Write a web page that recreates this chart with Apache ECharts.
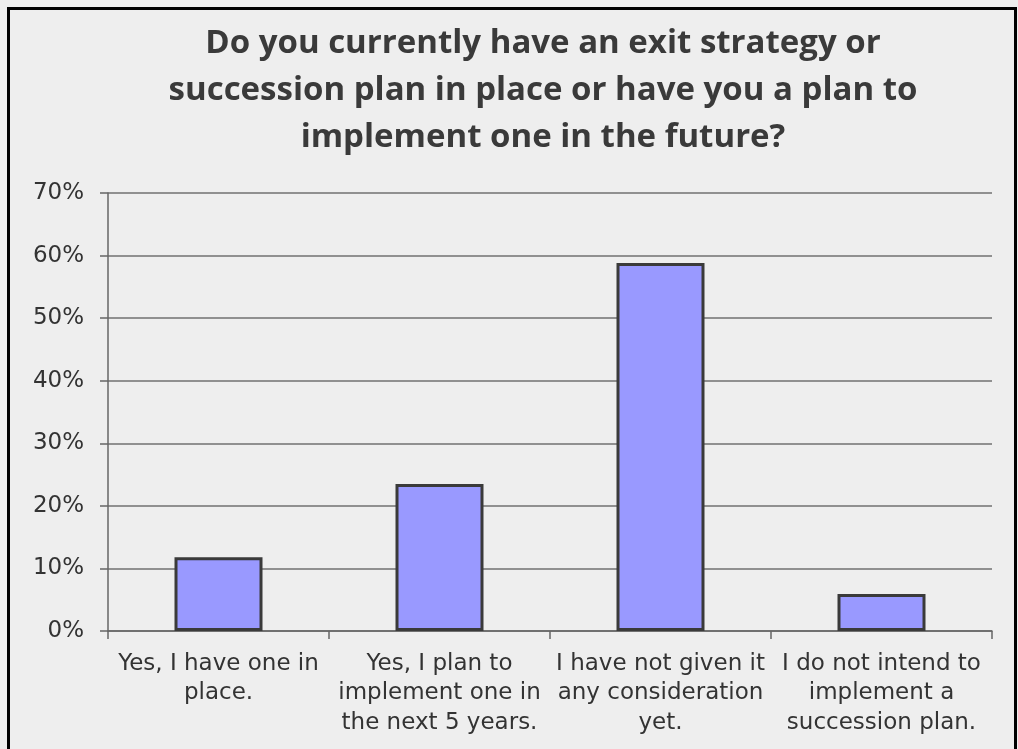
<!DOCTYPE html>
<html>
<head>
<meta charset="utf-8">
<script src="https://cdn.jsdelivr.net/npm/echarts@6/dist/echarts.min.js"></script>
<style>
  html, body { margin: 0; padding: 0; background: #eeeeee; }
  #chart { width: 1018px; height: 749px; }
</style>
</head>
<body>
<div id="chart"></div>
<script>
// Survey answers and share of respondents (%)
const categories = [
  'Yes, I have one in\nplace.',
  'Yes, I plan to\nimplement one in\nthe next 5 years.',
  'I have not given it\nany consideration\nyet.',
  'I do not intend to\nimplement a\nsuccession plan.'
];
const shares = [11.8, 23.5, 58.8, 5.9];
const yTicks = { min: 0, max: 70, step: 10 };
const titleText = 'Do you currently have an exit strategy or\nsuccession plan in place or have you a plan to\nimplement one in the future?';

const chart = echarts.init(document.getElementById('chart'), null, { renderer: 'canvas' });

chart.setOption({
  backgroundColor: '#eeeeee',
  animation: false,
  title: {
    text: titleText,
    left: 538,
    top: 15,
    textAlign: 'center',
    textStyle: {
      fontFamily: 'Open Sans',
      fontWeight: 'bold',
      fontSize: 33,
      lineHeight: 47,
      color: '#3a3a3a'
    }
  },
  graphic: [
    {
      type: 'rect',
      silent: true,
      shape: { x: 8.5, y: 8.5, width: 1007, height: 800 },
      style: { fill: 'none', stroke: '#000', lineWidth: 3 }
    }
  ],
  grid: { left: 108, right: 26, top: 193, bottom: 118 },
  xAxis: {
    type: 'category',
    data: categories,
    boundaryGap: true,
    axisLine: { show: true, lineStyle: { color: '#666666', width: 1.5 } },
    axisTick: { show: true, length: 8, alignWithLabel: false, lineStyle: { color: '#666666', width: 1.5 } },
    axisLabel: {
      interval: 0,
      margin: 18,
      fontFamily: 'DejaVu Sans',
      fontSize: 23,
      lineHeight: 29.5,
      color: '#333333'
    }
  },
  yAxis: {
    type: 'value',
    min: yTicks.min,
    max: yTicks.max,
    interval: yTicks.step,
    axisLine: { show: true, lineStyle: { color: '#666666', width: 1.5 } },
    axisTick: { show: true, length: 8, lineStyle: { color: '#666666', width: 1.5 } },
    splitLine: { show: true, lineStyle: { color: '#707070', width: 1.5 } },
    axisLabel: {
      margin: 24,
      formatter: '{value}%',
      fontFamily: 'DejaVu Sans',
      fontSize: 23,
      color: '#333333'
    }
  },
  series: [{
    type: 'bar',
    data: shares,
    barWidth: 88,
    itemStyle: { color: '#9999ff', borderColor: '#3a3a3a', borderWidth: 3 }
  }]
});
</script>
</body>
</html>
